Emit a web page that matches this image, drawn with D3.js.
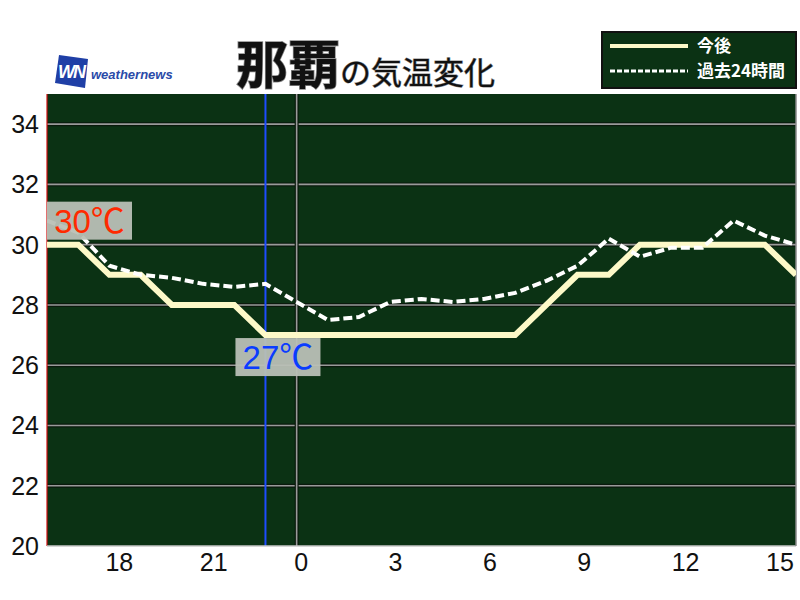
<!DOCTYPE html>
<html>
<head>
<meta charset="utf-8">
<script src="https://cdn.jsdelivr.net/npm/d3@7"></script>
<style>
body { margin: 0; background: #fff; }
</style>
</head>
<body>
<div class="chart"></div>
<script>
var svgWidth = 800;
var svgHeight = 600;
var margin = {top: 94, right: 4, bottom: 54, left: 47};
var width = svgWidth - margin.left - margin.right;
var height = svgHeight - margin.top - margin.bottom;

// hours relative to today 0:00
var hours = [-8, -7, -6, -5, -4, -3, -2, -1, 0, 1, 2, 3, 4, 5, 6, 7, 8, 9, 10, 11, 12, 13, 14, 15, 16];
var forecast = [30, 30, 29, 29, 28, 28, 28, 27, 27, 27, 27, 27, 27, 27, 27, 27, 28, 29, 29, 30, 30, 30, 30, 30, 29];
var past24 = [30.8, 30.4, 29.3, 29.0, 28.9, 28.7, 28.6, 28.7, 28.1, 27.5, 27.6, 28.1, 28.2, 28.1, 28.2, 28.4, 28.8, 29.3, 30.2, 29.6, 29.9, 29.9, 30.8, 30.3, 30.0];
var xTicks = [-6, -3, 0, 3, 6, 9, 12, 15];
var xTickLabels = ["18", "21", "0", "3", "6", "9", "12", "15"];
var yTicks = [20, 22, 24, 26, 28, 30, 32, 34];
var nowHour = -1;
var maxLabel = {hour: -8, value: 30, text: "30℃"};
var minLabel = {hour: -1, value: 27, text: "27℃"};

var svg = d3.select(".chart")
    .append("svg")
    .attr("width", svgWidth)
    .attr("height", svgHeight);

var chartGroup = svg.append("g")
    .attr("transform", "translate(" + margin.left + "," + margin.top + ")");

var xScale = d3.scaleLinear().domain([-8, 16]).range([0, width]);
var yScale = d3.scaleLinear().domain([20, 35]).range([height, 0]);

// background
chartGroup.append("rect")
    .attr("width", width)
    .attr("height", height)
    .attr("fill", "#0b3214");

// horizontal grid
yTicks.slice(1).forEach(function(t) {
    chartGroup.append("line")
        .attr("x1", 0).attr("x2", width)
        .attr("y1", yScale(t)).attr("y2", yScale(t))
        .attr("stroke", "#0a1a0c").attr("stroke-width", 4);
    chartGroup.append("line")
        .attr("x1", 0).attr("x2", width)
        .attr("y1", yScale(t)).attr("y2", yScale(t))
        .attr("stroke", "#9a9a9a").attr("stroke-width", 1.6);
});

// 0:00 line
chartGroup.append("line")
    .attr("x1", xScale(0)).attr("x2", xScale(0))
    .attr("y1", 0).attr("y2", height)
    .attr("stroke", "#0a1a0c").attr("stroke-width", 4);
chartGroup.append("line")
    .attr("x1", xScale(0)).attr("x2", xScale(0))
    .attr("y1", 0).attr("y2", height)
    .attr("stroke", "#9a9a9a").attr("stroke-width", 1.6);

// now line
chartGroup.append("line")
    .attr("x1", xScale(nowHour)).attr("x2", xScale(nowHour))
    .attr("y1", 0).attr("y2", height)
    .attr("stroke", "#1e4cff").attr("stroke-width", 2);

// borders
chartGroup.append("line")
    .attr("x1", 0).attr("x2", 0).attr("y1", 0).attr("y2", height)
    .attr("stroke", "#d01010").attr("stroke-width", 1.2);
chartGroup.append("line")
    .attr("x1", 0).attr("x2", width).attr("y1", height).attr("y2", height)
    .attr("stroke", "#c8c8c8").attr("stroke-width", 1.5);
chartGroup.append("line")
    .attr("x1", width).attr("x2", width).attr("y1", 0).attr("y2", height)
    .attr("stroke", "#8a8a8a").attr("stroke-width", 1.5);

chartGroup.append("clipPath").attr("id", "plotclip")
    .append("rect").attr("width", width).attr("height", height);

var line = d3.line()
    .x(function(d, i) { return xScale(hours[i]); })
    .y(function(d) { return yScale(d); });

chartGroup.append("path")
    .datum(forecast)
    .attr("clip-path", "url(#plotclip)")
    .attr("d", line)
    .attr("fill", "none")
    .attr("stroke", "#fdf9c8")
    .attr("stroke-width", 6);

chartGroup.append("path")
    .datum(past24)
    .attr("clip-path", "url(#plotclip)")
    .attr("d", line)
    .attr("fill", "none")
    .attr("stroke", "#ffffff")
    .attr("stroke-width", 4)
    .attr("stroke-dasharray", "9,4");

// max / min labels
function tempLabel(lab, dx, dy, color) {
    var bx = xScale(lab.hour) + dx;
    var by = yScale(lab.value) + dy;
    chartGroup.append("rect")
        .attr("x", bx).attr("y", by)
        .attr("width", 85).attr("height", 38)
        .attr("fill", "#b9c0b6")
        .attr("opacity", 0.95);
    chartGroup.append("text")
        .attr("x", bx + 42.5).attr("y", by + 31)
        .attr("text-anchor", "middle")
        .attr("font-family", "Liberation Sans, Arial, sans-serif")
        .attr("font-size", "33px")
        .attr("fill", color)
        .text(lab.text.slice(0, -1))
        .append("tspan")
        .attr("font-family", "Noto Sans CJK JP, sans-serif")
        .attr("font-size", "34px")
        .text(lab.text.slice(-1));
}
tempLabel(maxLabel, 0, -43, "#ff2a00");
tempLabel(minLabel, -30, 3, "#0a3cff");

// y axis labels
svg.selectAll(".ylab")
    .data(yTicks)
    .enter()
    .append("text")
    .attr("class", "ylab")
    .attr("x", 39)
    .attr("y", function(d) { return margin.top + yScale(d) + 9; })
    .attr("text-anchor", "end")
    .attr("font-family", "Liberation Sans, Arial, sans-serif")
    .attr("font-size", "25px")
    .attr("fill", "#111")
    .text(function(d) { return d; });

// x axis labels
svg.selectAll(".xlab")
    .data(xTicks)
    .enter()
    .append("text")
    .attr("class", "xlab")
    .attr("x", function(d) { return margin.left + xScale(d) - 4 + (d + 6) * 0.25; })
    .attr("y", 571)
    .attr("text-anchor", "start")
    .attr("font-family", "Liberation Sans, Arial, sans-serif")
    .attr("font-size", "25px")
    .attr("fill", "#111")
    .text(function(d, i) { return xTickLabels[i]; });

// title
var title = svg.append("text")
    .attr("x", 236)
    .attr("y", 84)
    .attr("font-family", "Noto Sans CJK JP, sans-serif")
    .attr("fill", "#111")
    .attr("stroke", "#8a8a8a")
    .attr("stroke-width", 1.5)
    .attr("paint-order", "stroke");
title.append("tspan")
    .attr("font-size", "52px")
    .attr("font-weight", "bold")
    .text("那覇");
title.append("tspan")
    .attr("font-size", "31px")
    .attr("font-weight", "normal")
    .attr("stroke-width", 1)
    .text("の気温変化");

// logo
var logo = svg.append("g").attr("transform", "translate(55,55)");
logo.append("path")
    .attr("d", "M4,0 L33,4 L30,33 L0,28 Z")
    .attr("fill", "#1f3fa6");
logo.append("text")
    .attr("x", 16).attr("y", 23)
    .attr("text-anchor", "middle")
    .attr("font-family", "Liberation Sans, Arial, sans-serif")
    .attr("font-size", "18px")
    .attr("font-weight", "bold")
    .attr("font-style", "italic")
    .attr("letter-spacing", "-2")
    .attr("fill", "#fff")
    .text("WN");
logo.append("text")
    .attr("x", 36).attr("y", 24)
    .attr("font-family", "Liberation Sans, Arial, sans-serif")
    .attr("font-size", "13px")
    .attr("font-weight", "bold")
    .attr("font-style", "italic")
    .attr("fill", "#2a4aa8")
    .text("weathernews");

// legend
var legend = svg.append("g").attr("transform", "translate(602,32)");
legend.append("rect")
    .attr("width", 194).attr("height", 56)
    .attr("fill", "#0b3214")
    .attr("stroke", "#111")
    .attr("stroke-width", 2);
legend.append("line")
    .attr("x1", 8).attr("x2", 86).attr("y1", 14).attr("y2", 14)
    .attr("stroke", "#fdf9c8").attr("stroke-width", 4);
legend.append("line")
    .attr("x1", 8).attr("x2", 86).attr("y1", 39).attr("y2", 39)
    .attr("stroke", "#fff").attr("stroke-width", 3)
    .attr("stroke-dasharray", "5,2");
var legendNames = ["今後", "過去24時間"];
legend.selectAll(".lg")
    .data(legendNames)
    .enter()
    .append("text")
    .attr("x", 95)
    .attr("y", function(d, i) { return 20 + i * 25; })
    .attr("font-family", "Noto Sans CJK JP, sans-serif")
    .attr("font-size", "17px")
    .attr("font-weight", "bold")
    .attr("fill", "#fff")
    .text(function(d) { return d; });
</script>
</body>
</html>
